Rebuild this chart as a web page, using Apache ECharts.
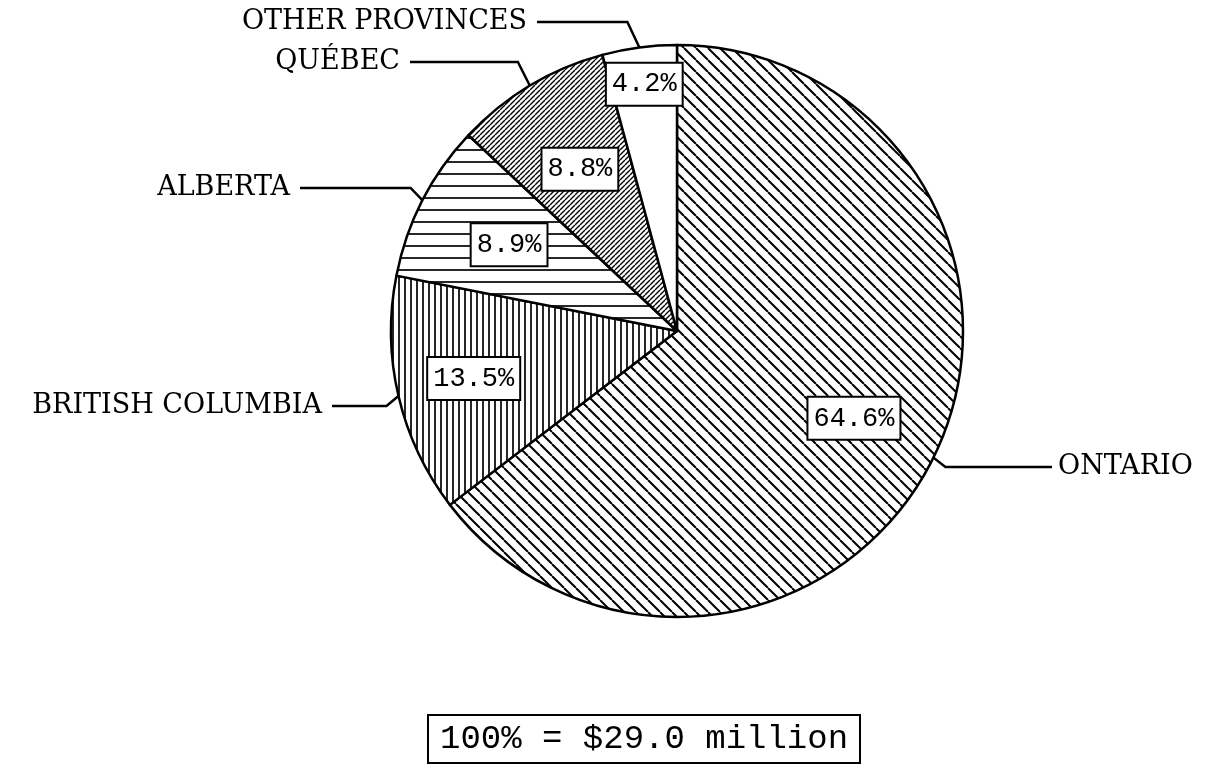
<!DOCTYPE html>
<html><head><meta charset="utf-8">
<script src="https://cdn.jsdelivr.net/npm/echarts@6/dist/echarts.min.js"></script>
<style>html,body{margin:0;padding:0;background:#fff}#c{width:1209px;height:769px}</style>
</head><body><div id="c"></div>
<script>
// ---- data ----
const categories = ['ONTARIO', 'BRITISH COLUMBIA', 'ALBERTA', 'QUÉBEC', 'OTHER PROVINCES'];
const shares = [64.6, 13.5, 8.9, 8.8, 4.2];
const totalMillions = 29.0;

// ---- layout / style ----
const CX = 677, CY = 331, R = 286;
const innerLabelRadius = [0.69, 0.73, 0.66, 0.66, 0.87];
const nameLabelPos = [
  {x: 1058, y: 467, side: 'right'},
  {x: 322, y: 406, side: 'left'},
  {x: 290, y: 188, side: 'left'},
  {x: 400, y: 62, side: 'left'},
  {x: 527, y: 22, side: 'left'}
];
const hatchStyles = [
  {type: 'back', s: 12, w: 2},
  {type: 'v', s: 6, w: 1.7},
  {type: 'h', s: 12, w: 1.7},
  {type: 'fwd', s: 5, w: 1.4},
  {type: 'none', s: 4, w: 0}
];

function hatch(type, s, w) {
  const c = document.createElement('canvas');
  c.width = s; c.height = s;
  const g = c.getContext('2d');
  g.fillStyle = '#fff'; g.fillRect(0, 0, s, s);
  if (type === 'none') return c;
  g.strokeStyle = '#000'; g.lineWidth = w; g.beginPath();
  if (type === 'h') { g.moveTo(0, s / 2); g.lineTo(s, s / 2); }
  else if (type === 'v') { g.moveTo(s / 2, 0); g.lineTo(s / 2, s); }
  else if (type === 'back') { for (let k = -1; k <= 1; k++) { g.moveTo(k * s, 0); g.lineTo(k * s + s, s); } }
  else if (type === 'fwd') { for (let k = -1; k <= 1; k++) { g.moveTo(k * s + s, 0); g.lineTo(k * s, s); } }
  g.stroke();
  return c;
}

const total = shares.reduce((a, b) => a + b, 0);
let acc = 0;
const mids = shares.map(v => { const m = (acc + v / 2) / total * 360; acc += v; return m; });
function pt(theta, r) {
  const t = theta * Math.PI / 180;
  return [CX + r * Math.sin(t), CY - r * Math.cos(t)];
}

const chart = echarts.init(document.getElementById('c'), null, {renderer: 'canvas'});
chart.setOption({
  backgroundColor: '#fff',
  animation: false,
  title: {
    text: '100% = $' + totalMillions.toFixed(1) + ' million',
    left: 428, top: 715,
    padding: [7, 12],
    borderColor: '#000', borderWidth: 2,
    textStyle: {fontFamily: 'Liberation Mono', fontSize: 34, fontWeight: 'normal', color: '#000'}
  },
  series: [
    {
      type: 'pie', center: [CX, CY], radius: R, startAngle: 90, clockwise: true,
      silent: true, avoidLabelOverlap: false,
      emphasis: {disabled: true},
      data: categories.map((n, i) => ({
        name: n, value: shares[i],
        itemStyle: {color: {image: hatch(hatchStyles[i].type, hatchStyles[i].s, hatchStyles[i].w), repeat: 'repeat'}}
      })),
      itemStyle: {borderColor: '#000', borderWidth: 2.5},
      label: {
        show: true, position: 'inside',
        formatter: p => p.value.toFixed(1) + '%',
        fontFamily: 'Liberation Mono', fontSize: 27, color: '#000',
        backgroundColor: '#fff', borderColor: '#000', borderWidth: 2,
        padding: [8, 5, 6, 5]
      },
      labelLine: {show: false},
      labelLayout: p => {
        const q = pt(mids[p.dataIndex], R * innerLabelRadius[p.dataIndex]);
        return {x: q[0], y: q[1], align: 'center', verticalAlign: 'middle'};
      }
    },
    {
      type: 'pie', center: [CX, CY], radius: R, startAngle: 90, clockwise: true,
      silent: true, avoidLabelOverlap: false,
      emphasis: {disabled: true},
      data: categories.map((n, i) => ({name: n, value: shares[i]})),
      itemStyle: {color: 'rgba(0,0,0,0)', borderWidth: 0},
      label: {
        show: true, position: 'outside', formatter: '{b}',
        fontFamily: 'DejaVu Serif', fontSize: 27, color: '#000'
      },
      labelLine: {show: true, length: 10, length2: 10, lineStyle: {color: '#000', width: 2.5}},
      labelLayout: p => {
        const i = p.dataIndex, L = nameLabelPos[i];
        const a = pt(mids[i], R);
        const left = L.side === 'left';
        const endX = left ? L.x + 10 : L.x - 6;
        const bendX = a[0] + (left ? -12 : 12);
        return {
          x: L.x, y: L.y, align: left ? 'right' : 'left', verticalAlign: 'middle',
          labelLinePoints: [a, [bendX, L.y], [endX, L.y]]
        };
      }
    }
  ]
});
</script>
</body></html>
